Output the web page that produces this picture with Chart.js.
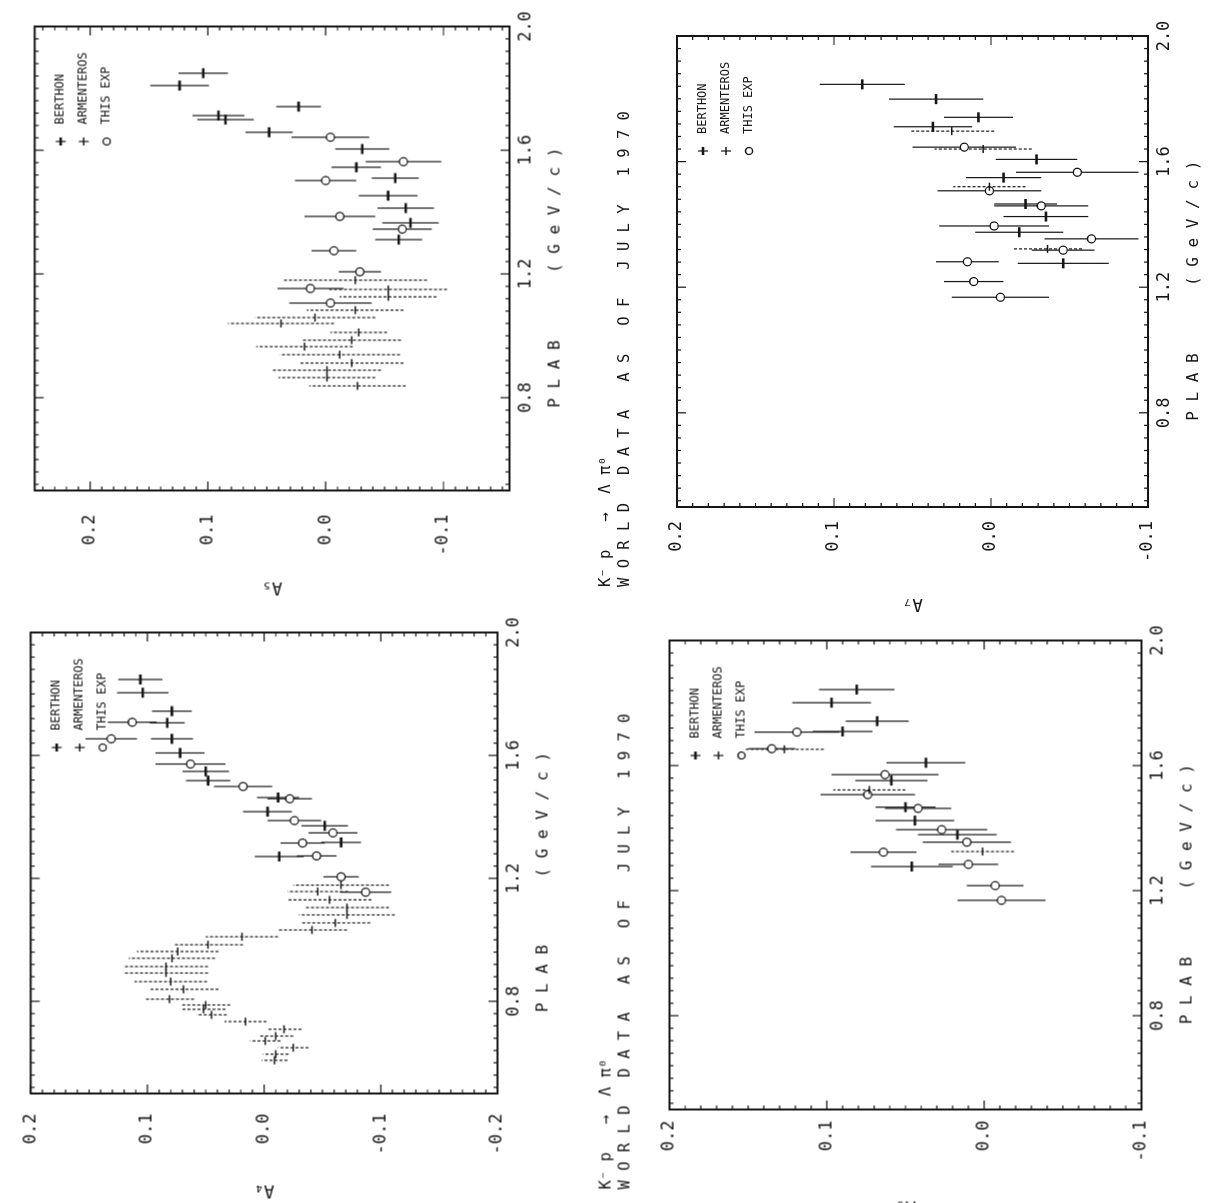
<!DOCTYPE html>
<html>
<head>
<meta charset="utf-8">
<title>K- p to Lambda pi0, world data as of July 1970</title>
<script src="https://cdn.jsdelivr.net/npm/chart.js@4.4.1/dist/chart.umd.min.js"></script>
<style>
	html, body { margin: 0; padding: 0; background: #fff; }
	body { position: relative; width: 1217px; height: 1203px; overflow: hidden; }
	.panel { position: absolute; transform: rotate(-90deg); }
</style>
</head>
<body>
<script>
const ink = "#161616";
const mono = "'DejaVu Sans Mono', 'Liberation Mono', monospace";

const experiments = ["BERTHON", "ARMENTEROS", "THIS EXP"];
const plabTicks = [0.8, 1.2, 1.6, 2.0];
const aTicks = [-0.1, 0.0, 0.1, 0.2];
const aTicksWide = [-0.2, -0.1, 0.0, 0.1, 0.2];
const titleLines = ["K⁻ p   →  Λ π⁰", "W O R L D   D A T A   A S   O F   J U L Y   1 9 7 0"];
const plabTitle = "P L A B       ( G e V / c )    ";

// [PLAB, A, error]
const a5Berthon = [
	[1.849, 0.104, 0.021], [1.809, 0.124, 0.025], [1.741, 0.023, 0.019], [1.712, 0.091, 0.022],
	[1.699, 0.085, 0.024], [1.658, 0.048, 0.020], [1.604, -0.031, 0.023], [1.545, -0.026, 0.021],
	[1.510, -0.059, 0.020], [1.453, -0.053, 0.025], [1.413, -0.068, 0.024], [1.365, -0.072, 0.024],
	[1.311, -0.062, 0.020],
];
const a5Armenteros = [
	[1.180, -0.025, 0.061], [1.150, -0.053, 0.050], [1.126, -0.053, 0.041], [1.083, -0.025, 0.041],
	[1.059, 0.009, 0.051], [1.040, 0.038, 0.045], [1.011, -0.028, 0.024], [0.986, -0.022, 0.042],
	[0.965, 0.018, 0.041], [0.939, -0.012, 0.051], [0.912, -0.022, 0.044], [0.889, -0.001, 0.046],
	[0.865, -0.001, 0.041], [0.838, -0.027, 0.041],
];
const a5ThisExp = [
	[1.642, -0.004, 0.033], [1.563, -0.066, 0.032], [1.502, 0.000, 0.026], [1.386, -0.012, 0.030],
	[1.345, -0.065, 0.025], [1.275, -0.007, 0.019], [1.207, -0.029, 0.018], [1.153, 0.013, 0.028],
	[1.106, -0.004, 0.035],
];

const a7Berthon = [
	[1.846, 0.082, 0.027], [1.799, 0.035, 0.030], [1.741, 0.008, 0.022], [1.711, 0.037, 0.025],
	[1.607, -0.029, 0.026], [1.549, -0.008, 0.024], [1.465, -0.022, 0.020], [1.425, -0.035, 0.027],
	[1.375, -0.018, 0.028], [1.276, -0.046, 0.029],
];
const a7Armenteros = [
	[1.697, 0.025, 0.027], [1.640, 0.005, 0.031], [1.520, 0.001, 0.023], [1.322, -0.036, 0.022],
];
const a7ThisExp = [
	[1.646, 0.017, 0.033], [1.566, -0.055, 0.039], [1.507, 0.001, 0.033], [1.459, -0.032, 0.030],
	[1.395, -0.002, 0.035], [1.354, -0.064, 0.030], [1.318, -0.046, 0.020], [1.281, 0.015, 0.020],
	[1.218, 0.011, 0.019], [1.168, -0.006, 0.031],
];

const a4Berthon = [
	[1.847, 0.106, 0.019], [1.804, 0.104, 0.022], [1.744, 0.079, 0.017], [1.706, 0.083, 0.015],
	[1.654, 0.079, 0.018], [1.608, 0.072, 0.021], [1.548, 0.050, 0.020], [1.518, 0.048, 0.019],
	[1.463, -0.012, 0.018], [1.417, -0.003, 0.021], [1.371, -0.052, 0.020], [1.317, -0.066, 0.017],
	[1.271, -0.013, 0.021],
];
const a4Armenteros = [
	[1.178, -0.066, 0.041], [1.157, -0.046, 0.026], [1.130, -0.056, 0.036], [1.105, -0.071, 0.036],
	[1.081, -0.071, 0.041], [1.055, -0.061, 0.030], [1.032, -0.041, 0.030], [1.010, 0.019, 0.031],
	[0.984, 0.048, 0.030], [0.962, 0.074, 0.035], [0.940, 0.079, 0.037], [0.913, 0.084, 0.036],
	[0.892, 0.084, 0.036], [0.864, 0.080, 0.031], [0.839, 0.069, 0.030], [0.807, 0.081, 0.021],
	[0.788, 0.050, 0.021], [0.774, 0.052, 0.019], [0.756, 0.045, 0.013], [0.734, 0.016, 0.018],
	[0.709, -0.017, 0.015], [0.687, -0.010, 0.015], [0.671, -0.001, 0.013], [0.649, -0.025, 0.013],
	[0.628, -0.010, 0.011], [0.608, -0.009, 0.011],
];
const a4ThisExp = [
	[1.708, 0.113, 0.021], [1.654, 0.131, 0.022], [1.572, 0.063, 0.030], [1.499, 0.018, 0.025],
	[1.459, -0.022, 0.019], [1.388, -0.026, 0.023], [1.348, -0.059, 0.021], [1.315, -0.033, 0.019],
	[1.273, -0.045, 0.017], [1.205, -0.066, 0.015], [1.155, -0.087, 0.022],
];

const a6Berthon = [
	[1.843, 0.081, 0.024], [1.801, 0.097, 0.025], [1.742, 0.068, 0.020], [1.709, 0.090, 0.019],
	[1.609, 0.037, 0.025], [1.552, 0.059, 0.023], [1.467, 0.050, 0.019], [1.424, 0.044, 0.025],
	[1.379, 0.017, 0.025], [1.277, 0.046, 0.026],
];
const a6Armenteros = [
	[1.652, 0.127, 0.025], [1.522, 0.073, 0.023], [1.325, 0.001, 0.020],
];
const a6ThisExp = [
	[1.707, 0.119, 0.027], [1.654, 0.135, 0.015], [1.571, 0.063, 0.034], [1.507, 0.074, 0.030],
	[1.463, 0.042, 0.021], [1.395, 0.027, 0.029], [1.355, 0.011, 0.028], [1.323, 0.064, 0.021],
	[1.284, 0.010, 0.019], [1.216, -0.007, 0.018], [1.169, -0.011, 0.028],
];

// marker / error bar look per experiment
const expStyle = [
	{ pointStyle: "line", radius: 5, width: 2.6, dash: [] },
	{ pointStyle: "line", radius: 4, width: 1.5, dash: [3, 2] },
	{ pointStyle: "circle", radius: 4, width: 1.3, dash: [] },
];

// the page is scanned on its side: each plot is drawn upright, then turned -90deg.
// box = plot frame in page pixels (left/right along A, top/bottom along PLAB)
const panels = [
	{ name: "A₅", x0: 0, x1: 600, y0: 0, y1: 615, box: { left: 26, right: 509, top: 26, bottom: 490 },
		aMin: -0.156, aMax: 0.247, ticks: aTicks, tickGap: 24, title: false,
		series: [a5Berthon, a5Armenteros, a5ThisExp] },
	{ name: "A₇", x0: 595, x1: 1217, y0: 0, y1: 620, box: { left: 677, right: 1148, top: 36, bottom: 507 },
		aMin: -0.1, aMax: 0.2, ticks: aTicks, tickGap: 14, title: true,
		series: [a7Berthon, a7Armenteros, a7ThisExp] },
	{ name: "A₄", x0: 0, x1: 600, y0: 600, y1: 1215, box: { left: 17.5, right: 497, top: 632, bottom: 1093 },
		aMin: -0.2, aMax: 0.2, ticks: aTicksWide, tickGap: 20, title: false,
		series: [a4Berthon, a4Armenteros, a4ThisExp] },
	{ name: "A₆", x0: 595, x1: 1217, y0: 600, y1: 1215, box: { left: 669, right: 1141, top: 640, bottom: 1109 },
		aMin: -0.1, aMax: 0.2, ticks: aTicks, tickGap: 11, title: true,
		series: [a6Berthon, a6Armenteros, a6ThisExp] },
];

const yAxisW = 80;
const xAxisH = 60;
const titleSize = 15.5;

// frame with inward ticks on all four sides
const frameTicks = {
	id: "frameTicks",
	afterDatasetsDraw(chart) {
		const { ctx, chartArea: a, scales: { x, y } } = chart;
		const steps = (scale, step) => {
			const out = [];
			for (let i = Math.ceil(scale.min / step - 1e-6); i * step <= scale.max + 1e-6; i++) out.push(i * step);
			return out;
		};
		const isMajor = (scale, v) => scale.ticks.some((t) => Math.abs(t.value - v) < 1e-6);
		ctx.save();
		ctx.strokeStyle = ink;
		ctx.lineWidth = 2;
		ctx.strokeRect(a.left, a.top, a.width, a.height);
		ctx.lineWidth = 1.2;
		ctx.beginPath();
		steps(x, 0.04).forEach((v) => {
			const px = x.getPixelForValue(v);
			const len = isMajor(x, v) ? 9 : 4;
			ctx.moveTo(px, a.bottom); ctx.lineTo(px, a.bottom - len);
			ctx.moveTo(px, a.top); ctx.lineTo(px, a.top + len);
		});
		steps(y, 0.01).forEach((v) => {
			const py = y.getPixelForValue(v);
			const len = isMajor(y, v) ? 9 : 4;
			ctx.moveTo(a.left, py); ctx.lineTo(a.left + len, py);
			ctx.moveTo(a.right, py); ctx.lineTo(a.right - len, py);
		});
		ctx.stroke();
		ctx.restore();
	},
};

// small key in the upper right corner of the frame
const cornerKey = {
	id: "cornerKey",
	afterDraw(chart) {
		const { ctx, chartArea: a } = chart;
		ctx.save();
		ctx.strokeStyle = ink;
		ctx.fillStyle = ink;
		ctx.font = "12px " + mono;
		ctx.textBaseline = "middle";
		experiments.forEach((name, i) => {
			const st = expStyle[i];
			const cy = a.top + 26 + i * 23;
			const cx = a.right - 115;
			ctx.beginPath();
			if (st.pointStyle === "circle") {
				ctx.lineWidth = 1.3;
				ctx.arc(cx, cy, 3.5, 0, Math.PI * 2);
				ctx.stroke();
			} else {
				ctx.lineWidth = 1.2;
				ctx.moveTo(cx, cy - 5); ctx.lineTo(cx, cy + 5);
				ctx.stroke();
				ctx.beginPath();
				ctx.lineWidth = st.width;
				ctx.moveTo(cx - 4, cy); ctx.lineTo(cx + 4, cy);
				ctx.stroke();
			}
			ctx.fillText(name, a.right - 98, cy);
		});
		ctx.restore();
	},
};

function buildDatasets(series) {
	const sets = [];
	series.forEach((rows, i) => {
		const st = expStyle[i];
		sets.push({
			label: experiments[i] + " error",
			data: rows.flatMap(([p, a, e]) => [{ x: p, y: a - e }, { x: p, y: a + e }, { x: p, y: null }]),
			showLine: true,
			spanGaps: false,
			pointRadius: 0,
			borderColor: ink,
			borderWidth: 1.2,
			borderDash: st.dash,
			order: 2,
		});
		sets.push({
			label: experiments[i],
			data: rows.map(([p, a]) => ({ x: p, y: a })),
			showLine: false,
			pointStyle: st.pointStyle,
			pointRadius: st.radius,
			pointBorderWidth: st.width,
			pointBorderColor: ink,
			pointBackgroundColor: "#fff",
			order: 1,
		});
	});
	return sets;
}

panels.forEach((cfg) => {
	const W = cfg.y1 - cfg.y0;
	const H = cfg.x1 - cfg.x0;
	const wrap = document.createElement("div");
	wrap.className = "panel";
	wrap.style.width = W + "px";
	wrap.style.height = H + "px";
	wrap.style.left = (cfg.x0 + cfg.x1) / 2 - W / 2 + "px";
	wrap.style.top = (cfg.y0 + cfg.y1) / 2 - H / 2 + "px";
	const canvas = document.createElement("canvas");
	canvas.width = W;
	canvas.height = H;
	wrap.appendChild(canvas);
	document.body.appendChild(wrap);

	// plot frame in the upright drawing
	const uL = cfg.y1 - cfg.box.bottom;
	const uR = cfg.y1 - cfg.box.top;
	const vT = cfg.box.left - cfg.x0;
	const vB = cfg.box.right - cfg.x0;
	const titleLine = titleSize * 1.2;

	new Chart(canvas, {
		type: "scatter",
		data: { datasets: buildDatasets(cfg.series) },
		options: {
			responsive: false,
			animation: false,
			events: [],
			layout: {
				padding: {
					left: uL - yAxisW,
					right: W - uR,
					top: cfg.title ? 2 : vT,
					bottom: H - vB - xAxisH,
				},
			},
			plugins: {
				legend: { display: false },
				tooltip: { enabled: false },
				title: {
					display: cfg.title,
					text: titleLines,
					align: "start",
					color: ink,
					font: { family: mono, size: titleSize, weight: "normal", lineHeight: 1.2 },
					padding: { top: 0, bottom: vT - 2 - 2 * titleLine },
				},
			},
			scales: {
				x: {
					type: "linear",
					min: 0.5,
					max: 2.0,
					afterBuildTicks: (s) => { s.ticks = plabTicks.map((v) => ({ value: v })); },
					afterFit: (s) => { s.height = xAxisH; },
					grid: { display: false, drawTicks: false },
					border: { display: false },
					ticks: {
						color: ink,
						padding: 6,
						maxRotation: 0,
						autoSkip: false,
						font: { family: mono, size: 17 },
						callback: (v) => Number(v).toFixed(1),
					},
					title: {
						display: true,
						text: plabTitle,
						color: ink,
						font: { family: mono, size: 16 },
						padding: { top: 0, bottom: 5 },
					},
				},
				y: {
					type: "linear",
					min: cfg.aMin,
					max: cfg.aMax,
					afterBuildTicks: (s) => { s.ticks = cfg.ticks.map((v) => ({ value: v })); },
					afterFit: (s) => { s.width = yAxisW; },
					grid: { display: false, drawTicks: false },
					border: { display: false },
					ticks: {
						color: ink,
						padding: cfg.tickGap,
						font: { family: mono, size: 17 },
						callback: (v) => Number(v).toFixed(1),
					},
					title: {
						display: true,
						text: cfg.name,
						color: ink,
						font: { family: mono, size: 17 },
						padding: { top: -27, bottom: 0 },
					},
				},
			},
		},
		plugins: [frameTicks, cornerKey],
	});
});
</script>
</body>
</html>
